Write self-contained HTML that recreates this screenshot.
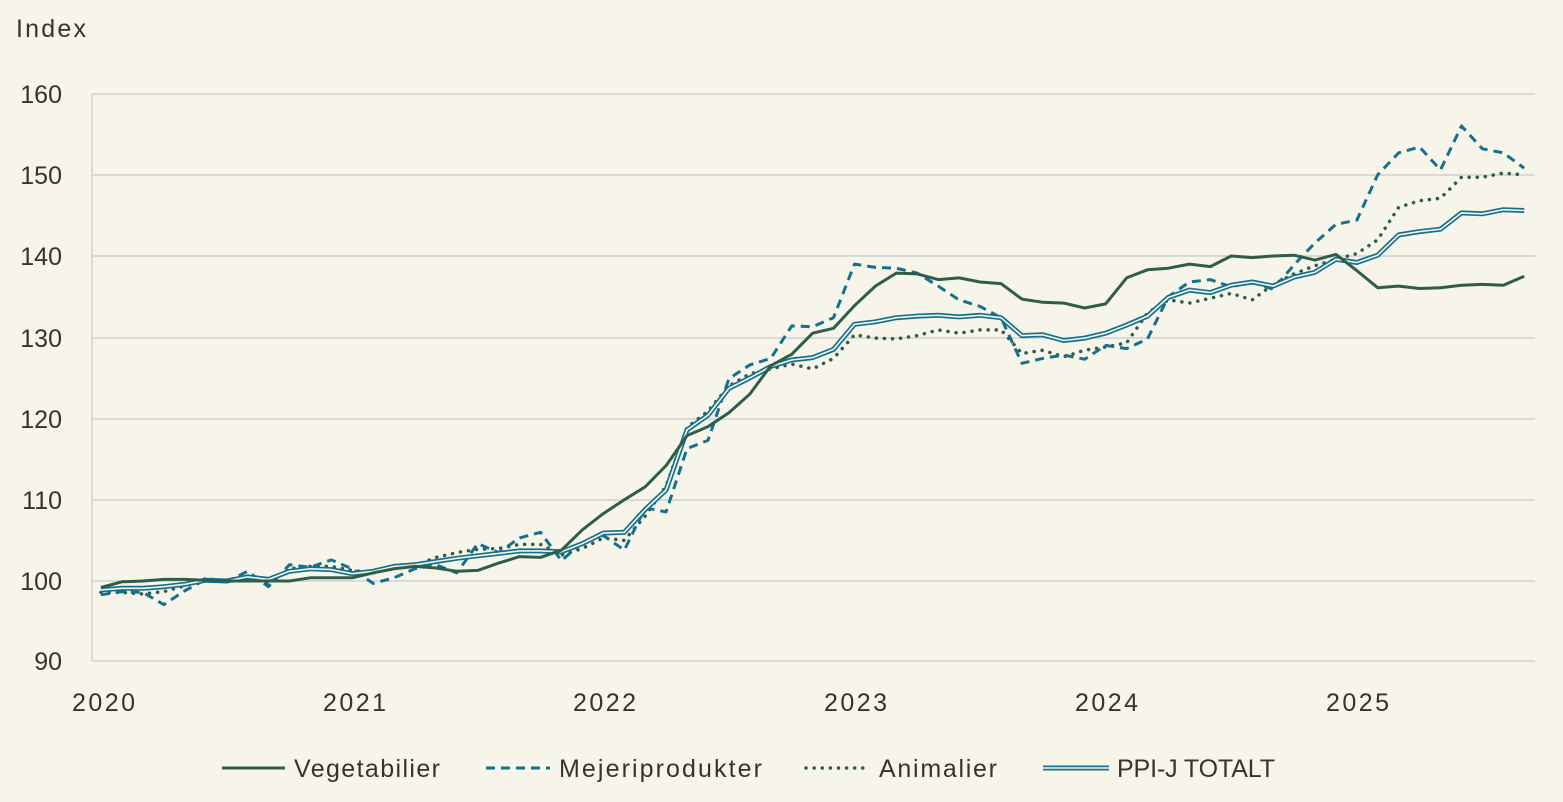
<!DOCTYPE html>
<html><head><meta charset="utf-8"><style>
html,body{margin:0;padding:0;background:#f7f5ea;}
svg{display:block;font-family:"Liberation Sans",sans-serif;}
</style></head><body>
<svg id="c" width="1563" height="802" viewBox="0 0 1563 802" xmlns="http://www.w3.org/2000/svg">
<rect width="1563" height="802" fill="#f7f5ea"/>
<g stroke="#d9d9d9" stroke-width="2">
<line x1="92" x2="1535" y1="94" y2="94"/><line x1="92" x2="1535" y1="175" y2="175"/>
<line x1="92" x2="1535" y1="256" y2="256"/><line x1="92" x2="1535" y1="338" y2="338"/>
<line x1="92" x2="1535" y1="419" y2="419"/><line x1="92" x2="1535" y1="500" y2="500"/>
<line x1="92" x2="1535" y1="581" y2="581"/><line x1="92" x2="1535" y1="661" y2="661"/>
<line x1="92" x2="92" y1="94" y2="661"/>
</g>
<g fill="#333" font-size="25" text-anchor="end">
<text x="62" y="103">160</text><text x="62" y="184">150</text><text x="62" y="265">140</text>
<text x="62" y="347">130</text><text x="62" y="428">120</text><text x="62" y="509">110</text>
<text x="62" y="590">100</text><text x="62" y="670">90</text>
</g>
<text x="16" y="37" fill="#333" font-size="25" textLength="70">Index</text>
<g fill="#333" font-size="25">
<text x="72" y="711" textLength="63">2020</text><text x="323" y="711" textLength="63">2021</text><text x="573" y="711" textLength="63">2022</text>
<text x="824" y="711" textLength="63">2023</text><text x="1075" y="711" textLength="63">2024</text><text x="1326" y="711" textLength="63">2025</text>
</g>
<g id="series" fill="none" stroke-linejoin="round"></g>
<g font-size="25" fill="#333">
<line x1="222" x2="285" y1="768" y2="768" stroke="#2e5e4a" stroke-width="3"/>
<text x="294" y="777" textLength="146">Vegetabilier</text>
<line x1="486" x2="550" y1="768" y2="768" stroke="#13718e" stroke-width="3" stroke-dasharray="9,6"/>
<text x="559" y="777" textLength="203">Mejeriprodukter</text>
<line x1="806" x2="870" y1="768" y2="768" stroke="#2e5e4a" stroke-width="3.5" stroke-dasharray="0.1,8" stroke-linecap="round"/>
<text x="879" y="777" textLength="118">Animalier</text>
<line x1="1043" x2="1109" y1="768" y2="768" stroke="#13718e" stroke-width="5"/>
<line x1="1043" x2="1109" y1="768" y2="768" stroke="#f7f5ea" stroke-width="1.6"/>
<text x="1117" y="777" textLength="158">PPI-J TOTALT</text>
</g>
</svg>
<script>
var veg=[99.2,99.9,100,100.2,100.2,100.1,100,100,100,100,100.4,100.4,
100.4,101,101.5,101.8,101.6,101.2,101.3,102.2,103,102.9,103.8,106.3,
108.3,110,111.6,114.2,117.9,119,120.7,123,126.5,127.9,130.5,131.1,
133.9,136.3,137.9,137.8,137.1,137.3,136.8,136.6,134.7,134.3,134.2,133.6,
134.1,137.3,138.3,138.5,139,138.7,140,139.8,140,140.1,139.5,140.2,
138.2,136.1,136.3,136,136.1,136.4,136.5,136.4,137.5];
var mej=[98.3,98.7,98.6,97.1,98.8,100.2,99.9,101.2,99.3,102,101.7,102.6,
101.5,99.7,100.4,101.5,102,101,104.6,103.5,105.3,106,102.5,104.8,
105.6,103.8,109,108.5,116.3,117.3,124.9,126.6,127.4,131.4,131.3,132.4,
139,138.6,138.5,137.9,136.3,134.6,133.8,132.4,126.8,127.4,127.8,127.3,
129,128.6,129.8,135,136.8,137.1,136.2,136.8,135.9,138.9,141.6,143.9,
144.4,150,152.7,153.4,150.6,156,153.2,152.7,150.8];
var ani=[98.6,98.6,98.4,98.7,99.4,100.3,100,100.6,99.6,101.5,101.8,101.8,
101.3,101,101.7,101.9,102.9,103.5,103.9,104,104.5,104.5,103.2,104,
105.3,105,108,111.7,118.9,120.9,124,125.5,126.1,126.7,126.1,127.4,
130.3,129.9,129.8,130.2,130.9,130.5,130.9,130.9,128,128.4,127.6,128.4,
128.8,129.3,133,134.6,134.2,134.8,135.4,134.6,136.5,137.8,138.8,139.6,
140.3,142,146,146.8,147.1,149.7,149.7,150.2,150];
var tot=[98.9,99.1,99.1,99.3,99.6,100.1,100,100.5,100.2,101.2,101.5,101.4,
100.9,101.2,101.8,102,102.4,102.8,103.1,103.4,103.7,103.7,103.6,104.6,
105.9,106,108.8,111.2,118.6,120.4,123.7,125,126.4,127.2,127.5,128.5,
131.6,131.9,132.4,132.6,132.7,132.5,132.7,132.4,130.2,130.3,129.6,129.9,
130.5,131.5,132.6,134.9,135.8,135.5,136.4,136.8,136.3,137.4,138,139.6,
139.2,140.1,142.6,143,143.3,145.3,145.2,145.7,145.6];
function pts(a){return a.map(function(v,i){return (101+i*20.93).toFixed(1)+","+(581-(v-100)*8.125).toFixed(1);}).join(" ");}
var g=document.getElementById("series"),ns="http://www.w3.org/2000/svg";
function add(a,attrs){var p=document.createElementNS(ns,"polyline");p.setAttribute("points",pts(a));for(var k in attrs)p.setAttribute(k,attrs[k]);g.appendChild(p);}
add(ani,{stroke:"#2e5e4a","stroke-width":"3.5","stroke-dasharray":"0.1,8","stroke-linecap":"round"});
add(mej,{stroke:"#13718e","stroke-width":"3","stroke-dasharray":"9,6"});
add(tot,{stroke:"#13718e","stroke-width":"5"});
add(tot,{stroke:"#f7f5ea","stroke-width":"1.6"});
add(veg,{stroke:"#2e5e4a","stroke-width":"3"});
</script>
</body></html>
